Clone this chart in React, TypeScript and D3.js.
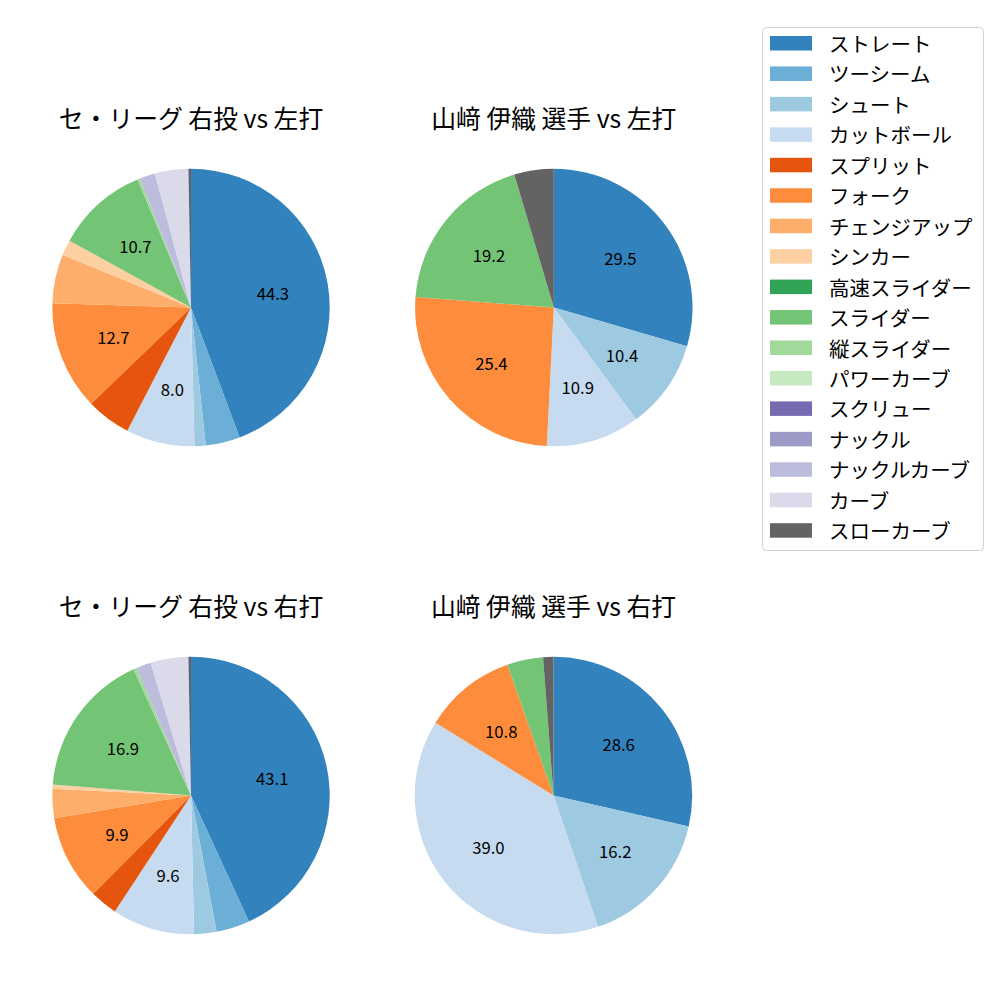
import React from "react";
import * as d3 from "d3";

const categories = ["ストレート","ツーシーム","シュート","カットボール","スプリット","フォーク","チェンジアップ","シンカー","高速スライダー","スライダー","縦スライダー","パワーカーブ","スクリュー","ナックル","ナックルカーブ","カーブ","スローカーブ"];
const colors = ["#3182bd","#6baed6","#9ecae1","#c6dbef","#e6550d","#fd8d3c","#fdae6b","#fdd0a2","#31a354","#74c476","#a1d99b","#c7e9c0","#756bb1","#9e9ac8","#bcbddc","#dadaeb","#636363"];

const titles = ["セ・リーグ 右投 vs 左打","山﨑 伊織 選手 vs 左打","セ・リーグ 右投 vs 右打","山﨑 伊織 選手 vs 右打"];

const leagueVsLeft = [44.3,4.0,1.3,8.0,5.2,12.7,5.7,1.8,0,10.7,0.3,0,0,0,1.8,3.9,0.3];
const playerVsLeft = [29.5,0,10.4,10.9,0,25.4,0,0,0,19.2,0,0,0,0,0,0,4.6];
const leagueVsRight = [43.1,3.9,2.6,9.6,3.2,9.9,3.4,0.5,0,16.9,0.4,0,0,0,1.7,4.4,0.3];
const playerVsRight = [28.6,0,16.2,39.0,0,10.8,0,0,0,4.2,0,0,0,0,0,0,1.2];

const series = [leagueVsLeft, playerVsLeft, leagueVsRight, playerVsRight];
const centers = [[191, 307.5],[553.8, 307.5],[191, 795.5],[553.5, 795.5]];
const R = 138.7;
const FONT = "'Noto Sans CJK JP', 'Noto Sans', sans-serif";

function Pie({ values, cx, cy, title }: { values: number[]; cx: number; cy: number; title: string }) {
  const data = values.map((v, i) => ({ v, i })).filter(d => d.v > 0);
  const pie = d3.pie<{ v: number; i: number }>().value(d => d.v).sort(null).startAngle(0).endAngle(2 * Math.PI);
  const arcs = pie(data);
  const arc = d3.arc<d3.PieArcDatum<{ v: number; i: number }>>().innerRadius(0).outerRadius(R);
  const total = d3.sum(data, d => d.v);
  return (
    <g transform={`translate(${cx},${cy})`}>
      <text x={0} y={-R - 51.5} textAnchor="middle" dominantBaseline="central" fontSize={24.8} fontFamily={FONT}>{title}</text>
      {arcs.map(a => (
        <path key={a.data.i} d={arc(a) || ""} fill={colors[a.data.i]} />
      ))}
      {arcs.map(a => {
        const pct = (a.data.v / total) * 100;
        if (pct < 7.5) return null;
        const m = (a.startAngle + a.endAngle) / 2;
        const x = Math.sin(m) * R * 0.6;
        const y = -Math.cos(m) * R * 0.6;
        return (
          <text key={"t" + a.data.i} x={x} y={y} textAnchor="middle" dominantBaseline="central" fontSize={16.7} fontFamily={FONT}>{a.data.v.toFixed(1)}</text>
        );
      })}
    </g>
  );
}

export default function App() {
  const lx = 762, ly = 27, lw = 221, lh = 523;
  const step = 30.45;
  return (
    <svg width={1000} height={1000} style={{ position: "absolute", left: 0, top: 0, background: "#fff" }}>
      <rect x={0} y={0} width={1000} height={1000} fill="#fff" />
      {series.map((s, k) => (
        <Pie key={k} values={s} cx={centers[k][0]} cy={centers[k][1]} title={titles[k]} />
      ))}
      <rect x={lx + 0.5} y={ly + 0.5} width={lw} height={lh} rx={4} fill="#fff" stroke="#d0d0d0" />
      {categories.map((c, i) => (
        <g key={c} transform={`translate(0,${43 + i * step})`}>
          <rect x={770} y={-7} width={42} height={14.5} fill={colors[i]} />
          <text x={829} y={0} dominantBaseline="central" fontSize={20.5} fontFamily={FONT}>{c}</text>
        </g>
      ))}
    </svg>
  );
}
